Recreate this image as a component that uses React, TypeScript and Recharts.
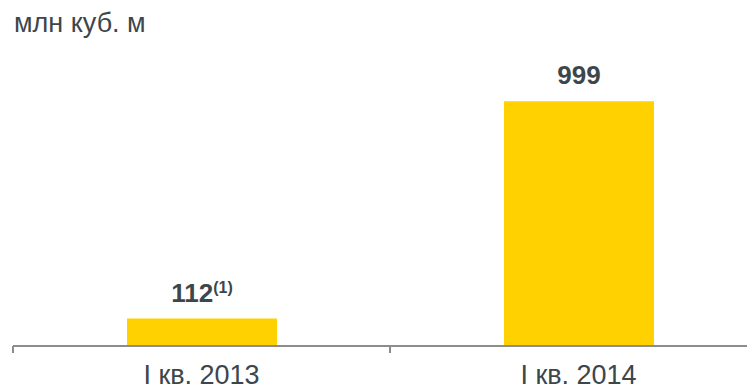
import { BarChart, Bar, XAxis, YAxis, LabelList } from "recharts";

const categories = ["I кв. 2013", "I кв. 2014"];
const volumes = [112, 999];
const notes = ["(1)", ""];

const data = categories.map((c, i) => ({ period: c, volume: volumes[i], note: notes[i] }));

const FONT = "Arial, 'Liberation Sans', sans-serif";
const TEXT = "#3c464b";
const YELLOW = "#FFD100";
const AXIS = "#8c8c8c";

function ValueLabel(props: any) {
  const { x, y, width, value, index } = props;
  const note = data[index]?.note;
  return (
    <text
      x={x + width / 2}
      y={y - 17}
      textAnchor="middle"
      fill={TEXT}
      fontFamily={FONT}
      fontWeight="bold"
      fontSize={26}
    >
      <tspan>{value}</tspan>
      {note ? (
        <tspan fontSize={16} dy={-9}>
          {note}
        </tspan>
      ) : null}
    </text>
  );
}

// category label plus tick marks at the band edges
function PeriodTick({ x, y, payload, index }: any) {
  const half = payload.offset ?? 0;
  const top = y - 8;
  return (
    <g>
      <line x1={x - half} x2={x - half} y1={top} y2={top + 7} stroke={AXIS} strokeWidth={2} />
      {index === categories.length - 1 ? (
        <line x1={x + half} x2={x + half} y1={top} y2={top + 7} stroke={AXIS} strokeWidth={2} />
      ) : null}
      <text x={x} y={y + 30} textAnchor="middle" fill={TEXT} fontFamily={FONT} fontSize={27}>
        {payload.value}
      </text>
    </g>
  );
}

export default function App() {
  return (
    <div
      style={{
        position: "absolute",
        left: 0,
        top: 0,
        width: 747,
        height: 388,
        overflow: "hidden",
        background: "#fff",
      }}
    >
      <svg width={300} height={50} style={{ position: "absolute", left: 0, top: 0 }}>
        <text x={14} y={32} fill={TEXT} fontFamily={FONT} fontSize={27}>
          млн куб. м
        </text>
      </svg>
      <BarChart
        width={767}
        height={388}
        data={data}
        margin={{ top: 101, right: 0, left: 13, bottom: 0 }}
      >
        <XAxis
          dataKey="period"
          tick={<PeriodTick />}
          tickLine={false}
          axisLine={{ stroke: AXIS, strokeWidth: 2 }}
          height={42}
          interval={0}
        />
        <YAxis hide domain={[0, 1000]} allowDataOverflow />
        <Bar dataKey="volume" fill={YELLOW} barSize={150} isAnimationActive={false}>
          <LabelList dataKey="volume" content={<ValueLabel />} />
        </Bar>
      </BarChart>
    </div>
  );
}
